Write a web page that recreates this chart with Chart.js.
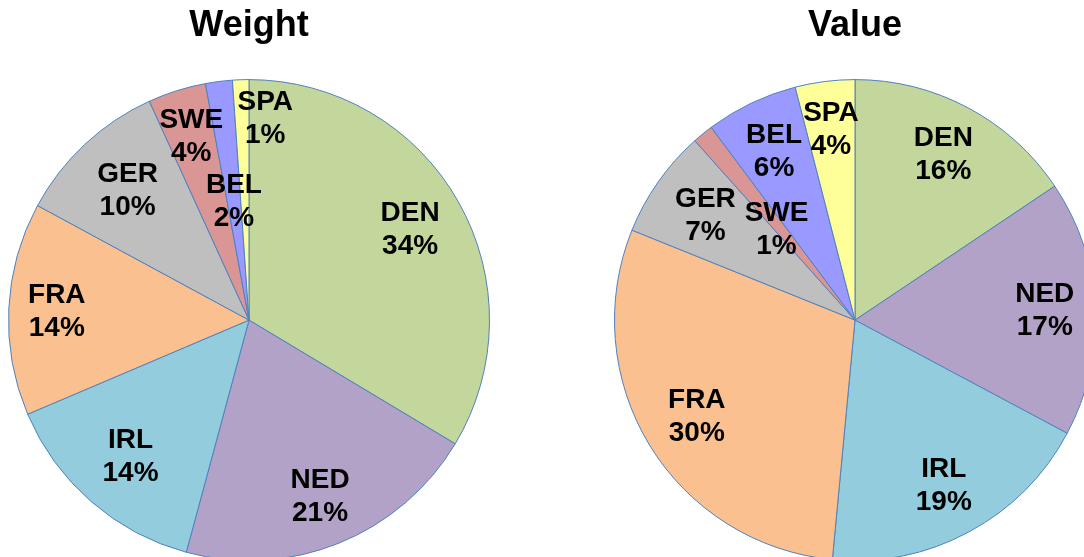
<!DOCTYPE html>
<html>
<head>
<meta charset="utf-8">
<script src="https://cdn.jsdelivr.net/npm/chart.js@4.4.0/dist/chart.umd.min.js"></script>
<style>
  html, body { margin: 0; padding: 0; background: #fff; overflow: hidden; }
  #wrap { position: relative; width: 1084px; height: 557px; overflow: hidden; }
  .box { position: absolute; top: 0; width: 498px; height: 570px; }
</style>
</head>
<body>
<div id="wrap">
  <div class="box" style="left:0px"><canvas id="weightChart"></canvas></div>
  <div class="box" style="left:606px"><canvas id="valueChart"></canvas></div>
</div>
<script>
const countries = ['DEN', 'NED', 'IRL', 'FRA', 'GER', 'SWE', 'BEL', 'SPA'];
const weightData = [33.6, 20.6, 14.4, 14.3, 10.3, 3.9, 1.8, 1.1];
const valueData = [15.6, 17.2, 18.7, 29.6, 7.3, 1.4, 6.2, 4.0];
const sliceColors = ['#C3D69B', '#B3A2C7', '#93CDDD', '#FAC090', '#BFBFBF', '#D99694', '#9999FF', '#FFFF99'];

// where each label sits: fraction of radius, and a nudge in degrees
const weightLabelPos = [[0.77, 0], [0.79, 0], [0.75, 0], [0.80, 0], [0.74, 0], [0.80, 0], [0.50, 0], [0.84, 6.6]];
const valueLabelPos = [[0.78, 0], [0.79, 0], [0.78, 0], [0.77, 0], [0.76, 0], [0.50, -1.5], [0.78, 0], [0.80, 0]];

const fontFam = '"Liberation Sans", Arial, sans-serif';

const sliceLabels = {
  id: 'sliceLabels',
  afterDatasetsDraw(chart, args, opts) {
    const ctx = chart.ctx;
    const meta = chart.getDatasetMeta(0);
    const data = chart.data.datasets[0].data;
    const total = data.reduce((a, b) => a + b, 0);
    ctx.save();
    ctx.fillStyle = '#000';
    ctx.font = 'bold 28px ' + fontFam;
    ctx.textAlign = 'center';
    ctx.textBaseline = 'middle';
    meta.data.forEach((arc, i) => {
      const p = arc.getProps(['x', 'y', 'startAngle', 'endAngle', 'outerRadius'], true);
      const pos = opts.pos[i];
      const mid = (p.startAngle + p.endAngle) / 2 + pos[1] * Math.PI / 180;
      const r = p.outerRadius * pos[0];
      const cx = p.x + Math.cos(mid) * r;
      const cy = p.y + Math.sin(mid) * r;
      const pct = Math.round(data[i] / total * 100) + '%';
      ctx.fillText(chart.data.labels[i], cx, cy - 16);
      ctx.fillText(pct, cx, cy + 17);
    });
    ctx.restore();
  }
};

function makePie(id, title, values, labelPos) {
  const ctx = document.getElementById(id).getContext('2d');
  return new Chart(ctx, {
    type: 'pie',
    data: {
      labels: countries,
      datasets: [{
        data: values,
        backgroundColor: sliceColors,
        borderColor: '#4F81BD',
        borderWidth: 1
      }]
    },
    options: {
      responsive: true,
      maintainAspectRatio: false,
      animation: false,
      layout: { padding: { left: 8, right: 8, top: 0, bottom: 8 } },
      plugins: {
        legend: { display: false },
        tooltip: { enabled: false },
        title: {
          display: true,
          text: title,
          color: '#000',
          font: { family: fontFam, size: 36, weight: 'bold', lineHeight: 1.2 },
          padding: { top: 4, bottom: 31 }
        },
        sliceLabels: { pos: labelPos }
      }
    },
    plugins: [sliceLabels]
  });
}

makePie('weightChart', 'Weight', weightData, weightLabelPos);
makePie('valueChart', 'Value', valueData, valueLabelPos);
</script>
</body>
</html>
